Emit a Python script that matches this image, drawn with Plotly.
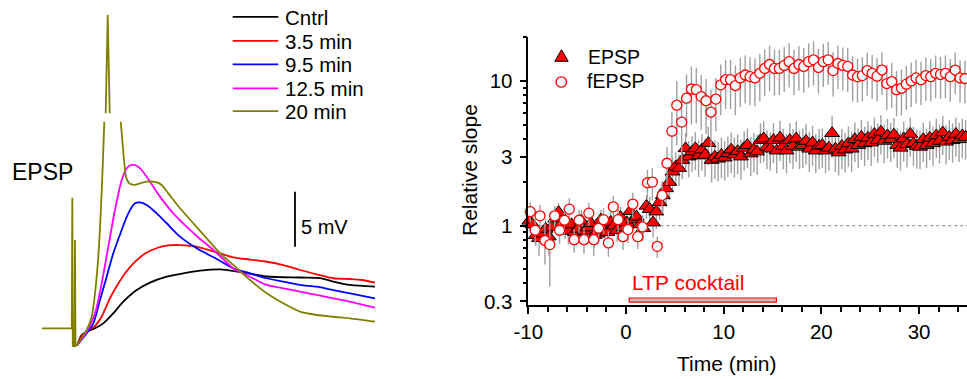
import plotly.graph_objects as go

W, H = 967, 379
FONT = "Liberation Sans, Arial, sans-serif"

# ---------------- Left panel: EPSP traces (time in ms, potential in mV) ----------------
STIM_T = [-6.06, -0.1, 0.0, 0.1, 0.44, 0.54, 0.64, 1.0]
STIM_V = [0.0, 0.0, 11.87, -1.61, -1.61, 8.03, -1.61, -1.52]

CNTRL_T = [1.0, 1.88, 2.88, 4.54, 6.2, 8.2, 10.2, 12.88, 15.54, 18.88, 22.2, 25.54, 29.54,
           33.54, 38.88, 45.54, 49.54, 52.2, 55.54, 60.54]
CNTRL_V = [-1.52, -0.61, -0.31, 0.0, 0.45, 1.36, 2.42, 3.48, 4.15, 4.69, 5.0, 5.24, 5.36,
           5.12, 4.71, 4.62, 4.57, 4.25, 3.94, 3.78]

MIN35_T = [1.0, 1.94, 3.14, 4.54, 5.94, 7.54, 9.14, 10.74, 12.54, 14.54, 16.94, 19.14, 21.54,
           24.54, 27.54, 32.2, 35.54, 38.88, 42.2, 45.54, 48.88, 52.2, 55.54, 57.94, 60.54]
MIN35_V = [-1.52, -0.70, -0.20, 0.21, 1.12, 2.75, 4.03, 5.12, 6.03, 6.8, 7.3, 7.53, 7.57,
           7.44, 7.09, 6.45, 6.25, 6.05, 5.75, 5.30, 4.91, 4.55, 4.48, 4.39, 4.15]

MIN95_T = [1.0, 2.88, 4.2, 5.54, 6.88, 8.2, 9.88, 11.2, 12.54, 13.54, 14.88, 16.88, 18.88,
           21.54, 24.88, 28.88, 32.2, 35.54, 38.88, 42.2, 45.54, 48.88, 52.2, 55.54, 60.54]
MIN95_V = [-1.52, -0.45, 0.45, 2.57, 4.69, 6.82, 8.94, 10.45, 11.36, 11.45, 11.21, 10.45, 9.55,
           8.33, 7.27, 6.30, 5.45, 5.0, 4.55, 4.24, 3.94, 3.78, 3.48, 3.18, 2.73]

MIN125_T = [1.0, 2.88, 4.54, 5.88, 7.2, 8.54, 9.88, 10.88, 11.88, 12.88, 13.88, 15.54, 17.54,
            20.2, 23.54, 25.54, 27.54, 29.54, 32.2, 35.54, 38.88, 42.2, 45.54, 48.88, 52.2,
            55.54, 60.54]
MIN125_V = [-1.52, -0.31, 1.36, 4.09, 7.42, 10.75, 13.48, 14.55, 14.85, 14.78, 14.39, 13.33,
            11.97, 10.45, 8.94, 8.12, 7.39, 6.57, 5.45, 4.69, 3.94, 3.64, 3.33, 3.03, 2.73,
            2.42, 1.87]

MIN20_RISE_T = [1.0, 2.88, 3.88, 4.54, 5.2, 5.68, 6.08, 6.4]
MIN20_RISE_V = [-1.52, -0.15, 1.05, 3.18, 6.51, 10.45, 14.69, 18.78]
MIN20_SPIKE_T = [6.68, 7.08, 7.48]
MIN20_SPIKE_V = [19.55, 28.48, 19.55]
MIN20_FALL_T = [9.68, 10.0, 10.34, 10.74, 11.4, 12.54, 13.54, 14.88, 16.88, 17.88, 19.2, 21.54,
                24.2, 26.88, 29.54, 32.2, 35.54, 38.88, 42.2, 45.54, 48.88, 52.2, 55.54, 60.54]
MIN20_FALL_V = [18.78, 17.12, 15.3, 13.78, 13.18, 13.03, 13.18, 13.33, 13.27, 13.03, 12.27,
                10.91, 9.55, 8.18, 6.82, 5.76, 4.39, 3.18, 2.27, 1.51, 1.21, 1.05, 0.91, 0.6]

TRACE_LABELS = ["Cntrl", "3.5 min", "9.5 min", "12.5 min", "20 min"]
TRACE_COLORS = ["#000000", "#ff0000", "#0000ff", "#ff00ff", "#808000"]
SCALE_MV = 5
SCALE_T = 44.54
SCALE_V0 = 7.42

# ---------------- Right panel: relative slope vs time ----------------
EPSP_T = [-9.9, -9.57, -9.23, -8.9, -8.57, -8.23, -7.9, -7.57, -7.23, -6.9, -6.57, -6.23, -5.9,
          -5.57, -5.23, -4.9, -4.57, -4.23, -3.9, -3.57, -3.23, -2.9, -2.57, -2.23, -1.9, -1.57,
          -1.23, -0.9, -0.57, -0.23, 0.1, 0.43, 0.77, 1.1, 1.43, 1.77, 2.1, 2.43, 2.77, 3.1,
          3.43, 3.77, 4.1, 4.43, 4.77, 5.1, 5.43, 5.77, 6.1, 6.43, 6.77, 7.1, 7.43, 7.77, 8.1,
          8.43, 8.77, 9.1, 9.43, 9.77, 10.1, 10.43, 10.77, 11.1, 11.43, 11.77, 12.1, 12.43,
          12.77, 13.1, 13.43, 13.77, 14.1, 14.43, 14.77, 15.1, 15.43, 15.77, 16.1, 16.43, 16.77,
          17.1, 17.43, 17.77, 18.1, 18.43, 18.77, 19.1, 19.43, 19.77, 20.1, 20.43, 20.77, 21.1,
          21.43, 21.77, 22.1, 22.43, 22.77, 23.1, 23.43, 23.77, 24.1, 24.43, 24.77, 25.1, 25.43,
          25.77, 26.1, 26.43, 26.77, 27.1, 27.43, 27.77, 28.1, 28.43, 28.77, 29.1, 29.43, 29.77,
          30.1, 30.43, 30.77, 31.1, 31.43, 31.77, 32.1, 32.43, 32.77, 33.1, 33.43, 33.77, 34.1,
          34.43, 34.77]
EPSP_V = [1.08, 1.02, 0.86, 0.82, 0.88, 0.95, 0.84, 0.98, 1.12, 1.24,
          1.05, 0.96, 0.92, 1.02, 0.90, 0.95, 1.08, 0.92, 0.97, 1.04,
          0.86, 0.88, 1.10, 0.95, 0.90, 1.06, 1.00, 0.93, 1.15, 0.97,
          1.05, 1.26, 1.10, 1.15, 1.02, 0.96, 1.37, 1.30, 1.05, 1.25,
          1.45, 1.62, 1.81, 2.00, 2.36, 2.56, 2.50, 2.84, 3.42, 3.00,
          3.25, 3.42, 3.05, 3.35, 3.08, 3.72, 2.84, 3.00, 2.90, 3.08,
          2.95, 3.16, 3.35, 3.10, 3.27, 3.00, 3.45, 3.60, 3.15, 3.35,
          3.25, 3.90, 4.00, 3.50, 3.40, 3.90, 3.30, 4.05, 3.55, 3.30,
          3.90, 3.55, 4.00, 3.50, 3.60, 3.85, 3.40, 3.75, 3.30, 3.55,
          3.60, 3.30, 3.45, 4.35, 3.40, 3.20, 3.55, 3.35, 3.70, 3.40,
          3.95, 3.60, 4.10, 3.70, 4.05, 3.75, 4.30, 3.90, 4.45, 3.85,
          4.20, 3.95, 4.25, 3.60, 3.45, 4.00, 3.65, 4.30, 3.70, 3.55,
          3.50, 3.95, 3.60, 4.05, 3.70, 4.20, 3.85, 4.40, 3.80, 4.10,
          3.90, 4.30, 3.95, 4.20, 4.10]
EPSP_SE = [0.15, 0.18, 0.14, 0.20, 0.12, 0.16, 0.22, 0.14, 0.17, 0.19,
           0.13, 0.15, 0.18, 0.12, 0.16, 0.14, 0.20, 0.15, 0.13, 0.17,
           0.16, 0.14, 0.19, 0.12, 0.15, 0.18, 0.14, 0.16, 0.20, 0.13,
           0.15, 0.22, 0.17, 0.19, 0.14, 0.16, 0.25, 0.28, 0.22, 0.30,
           0.35, 0.40, 0.45, 0.50, 0.60, 0.65, 0.62, 0.75, 0.95, 0.85,
           0.90, 1.00, 0.88, 0.95, 0.90, 1.10, 0.85, 0.90, 0.88, 0.95,
           0.90, 0.98, 1.05, 0.95, 1.00, 0.92, 1.05, 1.10, 0.95, 1.02,
           1.00, 1.20, 1.25, 1.05, 1.00, 1.20, 1.00, 1.25, 1.10, 1.00,
           1.20, 1.10, 1.25, 1.05, 1.10, 1.20, 1.05, 1.15, 1.00, 1.10,
           1.10, 1.00, 1.05, 1.40, 1.05, 0.98, 1.10, 1.02, 1.15, 1.05,
           1.20, 1.10, 1.25, 1.12, 1.22, 1.15, 1.30, 1.18, 1.35, 1.15,
           1.28, 1.20, 1.30, 1.10, 1.05, 1.22, 1.12, 1.30, 1.12, 1.08,
           1.05, 1.20, 1.10, 1.22, 1.12, 1.28, 1.15, 1.32, 1.15, 1.25,
           1.18, 1.30, 1.20, 1.28, 1.25]

FEPSP_T = [-9.8, -9.3, -8.8, -8.3, -7.8, -7.3, -6.8, -6.3, -5.8, -5.3, -4.8, -4.3, -3.8, -3.3,
           -2.8, -2.3, -1.8, -1.3, -0.8, -0.3, 0.2, 0.7, 1.2, 1.7, 2.2, 2.7, 3.2, 3.7, 4.2, 4.7,
           5.2, 5.7, 6.2, 6.7, 7.2, 7.7, 8.2, 8.7, 9.2, 9.7, 10.2, 10.7, 11.2, 11.7, 12.2, 12.7,
           13.2, 13.7, 14.2, 14.7, 15.2, 15.7, 16.2, 16.7, 17.2, 17.7, 18.2, 18.7, 19.2, 19.7,
           20.2, 20.7, 21.2, 21.7, 22.2, 22.7, 23.2, 23.7, 24.2, 24.7, 25.2, 25.7, 26.2, 26.7,
           27.2, 27.7, 28.2, 28.7, 29.2, 29.7, 30.2, 30.7, 31.2, 31.7, 32.2, 32.7, 33.2, 33.7,
           34.2, 34.7]
FEPSP_V = [1.25, 0.93, 1.17, 0.79, 0.74, 1.17, 0.93, 1.09, 1.30, 0.80,
           1.09, 0.80, 1.22, 0.80, 0.96, 1.10, 0.76, 1.35, 1.10, 0.84,
           0.94, 1.41, 0.84, 0.98, 1.98, 2.00, 0.72, 1.62, 2.70, 4.50,
           6.80, 5.20, 7.60, 8.80, 8.70, 7.80, 7.30, 6.10, 7.50, 9.40,
           10.2, 10.2, 9.30, 10.5, 11.0, 10.7, 10.5, 11.3, 12.2, 13.0,
           12.2, 12.2, 12.8, 13.6, 12.2, 13.0, 12.6, 13.6, 14.0, 12.4,
           13.6, 14.0, 11.8, 13.2, 12.8, 12.6, 11.0, 10.7, 10.9, 11.8,
           11.3, 10.8, 11.9, 9.6, 9.9, 8.7, 8.9, 9.5, 10.0, 10.5,
           10.2, 10.9, 10.7, 11.3, 11.1, 11.3, 10.7, 11.9, 10.5, 10.4]
FEPSP_SE = [0.20, 0.18, 0.22, 0.25, 0.36, 0.20, 0.18, 0.22, 0.25, 0.15,
            0.20, 0.16, 0.22, 0.18, 0.20, 0.22, 0.15, 0.25, 0.20, 0.16,
            0.18, 0.28, 0.15, 0.20, 0.45, 0.50, 0.12, 0.40, 0.80, 1.60,
            3.20, 2.60, 3.50, 3.80, 3.60, 3.20, 3.00, 2.60, 3.00, 3.60,
            3.80, 3.80, 3.50, 3.90, 4.00, 3.90, 3.80, 4.10, 4.30, 4.50,
            4.30, 4.20, 4.40, 4.60, 4.20, 4.40, 4.30, 4.60, 4.70, 4.20,
            4.50, 4.60, 4.00, 4.40, 4.20, 4.20, 3.80, 3.60, 3.70, 3.90,
            3.80, 3.60, 3.90, 3.30, 3.40, 3.00, 3.10, 3.20, 3.40, 3.50,
            3.40, 3.60, 3.50, 3.70, 3.60, 3.70, 3.50, 3.80, 3.40, 3.40]

BASELINE_LEVEL = 1
LTP_START, LTP_END = 0.33, 15.4
LTP_BAR_LO, LTP_BAR_HI = 0.296, 0.3166

X_TICKS = [-10, 0, 10, 20, 30]
X_TICKTEXT = ["-10", "0", "10", "20", "30"]
Y_TICKS = [0.3, 1, 3, 10]
Y_TICKTEXT = ["0.3", "1", "3", "10"]
Y_MINOR = [0.4, 0.5, 0.6, 0.7, 0.8, 0.9, 2, 4, 5, 6, 7, 8, 9, 20]


def fx(x):
    return x / W


def fy(y):
    return 1 - y / H


fig = go.Figure()

left_sets = [
    (CNTRL_T, CNTRL_V, TRACE_COLORS[0]),
    (MIN35_T, MIN35_V, TRACE_COLORS[1]),
    (MIN95_T, MIN95_V, TRACE_COLORS[2]),
    (MIN125_T, MIN125_V, TRACE_COLORS[3]),
]
for t, v, c in left_sets:
    fig.add_trace(go.Scatter(x=t, y=v, mode="lines",
                             line=dict(color=c, width=1.8, shape="spline", smoothing=0.8),
                             xaxis="x", yaxis="y", showlegend=False, hoverinfo="skip"))
olive = TRACE_COLORS[4]
fig.add_trace(go.Scatter(x=MIN20_RISE_T, y=MIN20_RISE_V, mode="lines",
                         line=dict(color=olive, width=1.8, shape="spline", smoothing=0.6),
                         xaxis="x", yaxis="y", showlegend=False, hoverinfo="skip"))
fig.add_trace(go.Scatter(x=MIN20_SPIKE_T, y=MIN20_SPIKE_V, mode="lines",
                         line=dict(color=olive, width=1.8),
                         xaxis="x", yaxis="y", showlegend=False, hoverinfo="skip"))
fig.add_trace(go.Scatter(x=MIN20_FALL_T, y=MIN20_FALL_V, mode="lines",
                         line=dict(color=olive, width=1.8, shape="spline", smoothing=0.6),
                         xaxis="x", yaxis="y", showlegend=False, hoverinfo="skip"))
fig.add_trace(go.Scatter(x=STIM_T, y=STIM_V, mode="lines",
                         line=dict(color=olive, width=1.8),
                         xaxis="x", yaxis="y", showlegend=False, hoverinfo="skip"))

fig.add_trace(go.Scatter(x=[-10, 35], y=[BASELINE_LEVEL, BASELINE_LEVEL], mode="lines",
                         line=dict(color="#9a9a9a", width=1.2, dash="dot"),
                         xaxis="x2", yaxis="y2", showlegend=False, hoverinfo="skip"))
fig.add_trace(go.Scatter(x=[LTP_START, LTP_END, LTP_END, LTP_START, LTP_START],
                         y=[LTP_BAR_LO, LTP_BAR_LO, LTP_BAR_HI, LTP_BAR_HI, LTP_BAR_LO],
                         mode="lines", fill="toself", fillcolor="#c0c0c0",
                         line=dict(color="#ff0000", width=1.2),
                         xaxis="x2", yaxis="y2", showlegend=False, hoverinfo="skip"))
fig.add_trace(go.Scatter(x=EPSP_T, y=EPSP_V, mode="markers", name="EPSP",
                         marker=dict(symbol="triangle-up", size=13, color="#ff0000",
                                     line=dict(color="#000000", width=1)),
                         error_y=dict(type="data", array=EPSP_SE, color="#a0a0a0",
                                      thickness=1.4, width=0),
                         cliponaxis=False, xaxis="x2", yaxis="y2", showlegend=False))
fig.add_trace(go.Scatter(x=FEPSP_T, y=FEPSP_V, mode="markers", name="fEPSP",
                         marker=dict(symbol="circle", size=10, color="#ffffff",
                                     line=dict(color="#ff0000", width=1.3)),
                         error_y=dict(type="data", array=FEPSP_SE, color="#a0a0a0",
                                      thickness=1.4, width=0),
                         cliponaxis=False, xaxis="x2", yaxis="y2", showlegend=False))

shapes = []
annotations = []

LEG_ROWS = [16.8, 40.8, 64.4, 88.3, 111.2]
for lab, col, yy in zip(TRACE_LABELS, TRACE_COLORS, LEG_ROWS):
    shapes.append(dict(type="line", xref="paper", yref="paper", x0=fx(232.7), x1=fx(278.3),
                       y0=fy(yy), y1=fy(yy), line=dict(color=col, width=1.8)))
    annotations.append(dict(text=lab, xref="paper", yref="paper", x=fx(283), y=fy(yy + 0.5),
                            xanchor="left", yanchor="middle", showarrow=False,
                            font=dict(size=20.5, color="black", family=FONT)))

shapes.append(dict(type="line", xref="x", yref="y", x0=SCALE_T, x1=SCALE_T,
                   y0=SCALE_V0, y1=SCALE_V0 + SCALE_MV, line=dict(color="black", width=1.8)))
annotations.append(dict(text=f"{SCALE_MV} mV", xref="paper", yref="paper", x=fx(299), y=fy(226.5),
                        xanchor="left", yanchor="middle", showarrow=False,
                        font=dict(size=20, color="black", family=FONT)))
annotations.append(dict(text="EPSP", xref="paper", yref="paper", x=fx(9.5), y=fy(171.7),
                        xanchor="left", yanchor="middle", showarrow=False,
                        font=dict(size=23, color="black", family=FONT)))

shapes.append(dict(type="path", xref="paper", yref="paper", xsizemode="pixel", ysizemode="pixel",
                   xanchor=fx(561.5), yanchor=fy(56.5),
                   path="M -6.7,-4.8 L 6.7,-4.8 L 0,6.8 Z",
                   fillcolor="#ff0000", line=dict(color="black", width=1)))
shapes.append(dict(type="circle", xref="paper", yref="paper", xsizemode="pixel", ysizemode="pixel",
                   xanchor=fx(561.3), yanchor=fy(82), x0=-5.2, x1=5.2, y0=-5.2, y1=5.2,
                   fillcolor="#ffffff", line=dict(color="#ff0000", width=1.3)))
annotations.append(dict(text="EPSP", xref="paper", yref="paper", x=fx(586), y=fy(57),
                        xanchor="left", yanchor="middle", showarrow=False,
                        font=dict(size=19.5, color="black", family=FONT)))
annotations.append(dict(text="fEPSP", xref="paper", yref="paper", x=fx(585), y=fy(81),
                        xanchor="left", yanchor="middle", showarrow=False,
                        font=dict(size=19.5, color="black", family=FONT)))

annotations.append(dict(text="LTP cocktail", xref="paper", yref="paper", x=fx(687.5), y=fy(282.5),
                        xanchor="center", yanchor="middle", showarrow=False,
                        font=dict(size=21, color="#ff0000", family=FONT)))
annotations.append(dict(text="Relative slope", xref="paper", yref="paper", x=fx(469), y=fy(170),
                        xanchor="center", yanchor="middle", showarrow=False, textangle=-90,
                        font=dict(size=21, color="black", family=FONT)))
annotations.append(dict(text="Time (min)", xref="paper", yref="paper", x=fx(727.3), y=fy(363.3),
                        xanchor="center", yanchor="middle", showarrow=False,
                        font=dict(size=21, color="black", family=FONT)))

fig.update_layout(
    template="none",
    width=W, height=H, margin=dict(l=0, r=0, t=0, b=0, pad=0, autoexpand=False),
    paper_bgcolor="white", plot_bgcolor="rgba(0,0,0,0)",
    font=dict(family=FONT, color="black"),
    showlegend=False,
    xaxis=dict(domain=[0, 400 / W], range=[-14.46, 65.54], visible=False, automargin=False),
    yaxis=dict(domain=[0, 1], range=[-4.609, 29.845], visible=False, automargin=False),
    xaxis2=dict(domain=[528.3 / W, 1.0], range=[-10, 34.91], anchor="y2", automargin=False,
                showline=True, linecolor="black", linewidth=1.5, showgrid=False, zeroline=False,
                ticks="outside", ticklen=7, tickwidth=1.5, tickcolor="black",
                tickmode="array", tickvals=X_TICKS, ticktext=X_TICKTEXT,
                tickfont=dict(size=20.5, family=FONT, color="black"),
                ticklabelstandoff=1,
                minor=dict(tickmode="linear", tick0=-10, dtick=2, ticks="outside",
                           ticklen=5, tickwidth=1.5, tickcolor="black", showgrid=False)),
    yaxis2=dict(domain=[(H - 305) / H, (H - 37.4) / H], type="log", range=[-0.548, 1.30103],
                anchor="x2", automargin=False, showline=True, linecolor="black", linewidth=1.5,
                showgrid=False, zeroline=False, ticks="outside", ticklen=7, tickwidth=1.5,
                tickcolor="black", tickmode="array", tickvals=Y_TICKS, ticktext=Y_TICKTEXT,
                tickfont=dict(size=20.5, family=FONT, color="black"),
                ticklabelstandoff=3,
                minor=dict(tickmode="array", tickvals=Y_MINOR, ticks="outside",
                           ticklen=4, tickwidth=1.5, tickcolor="black", showgrid=False)),
    shapes=shapes,
    annotations=annotations,
)

fig.write_html("out.html")
